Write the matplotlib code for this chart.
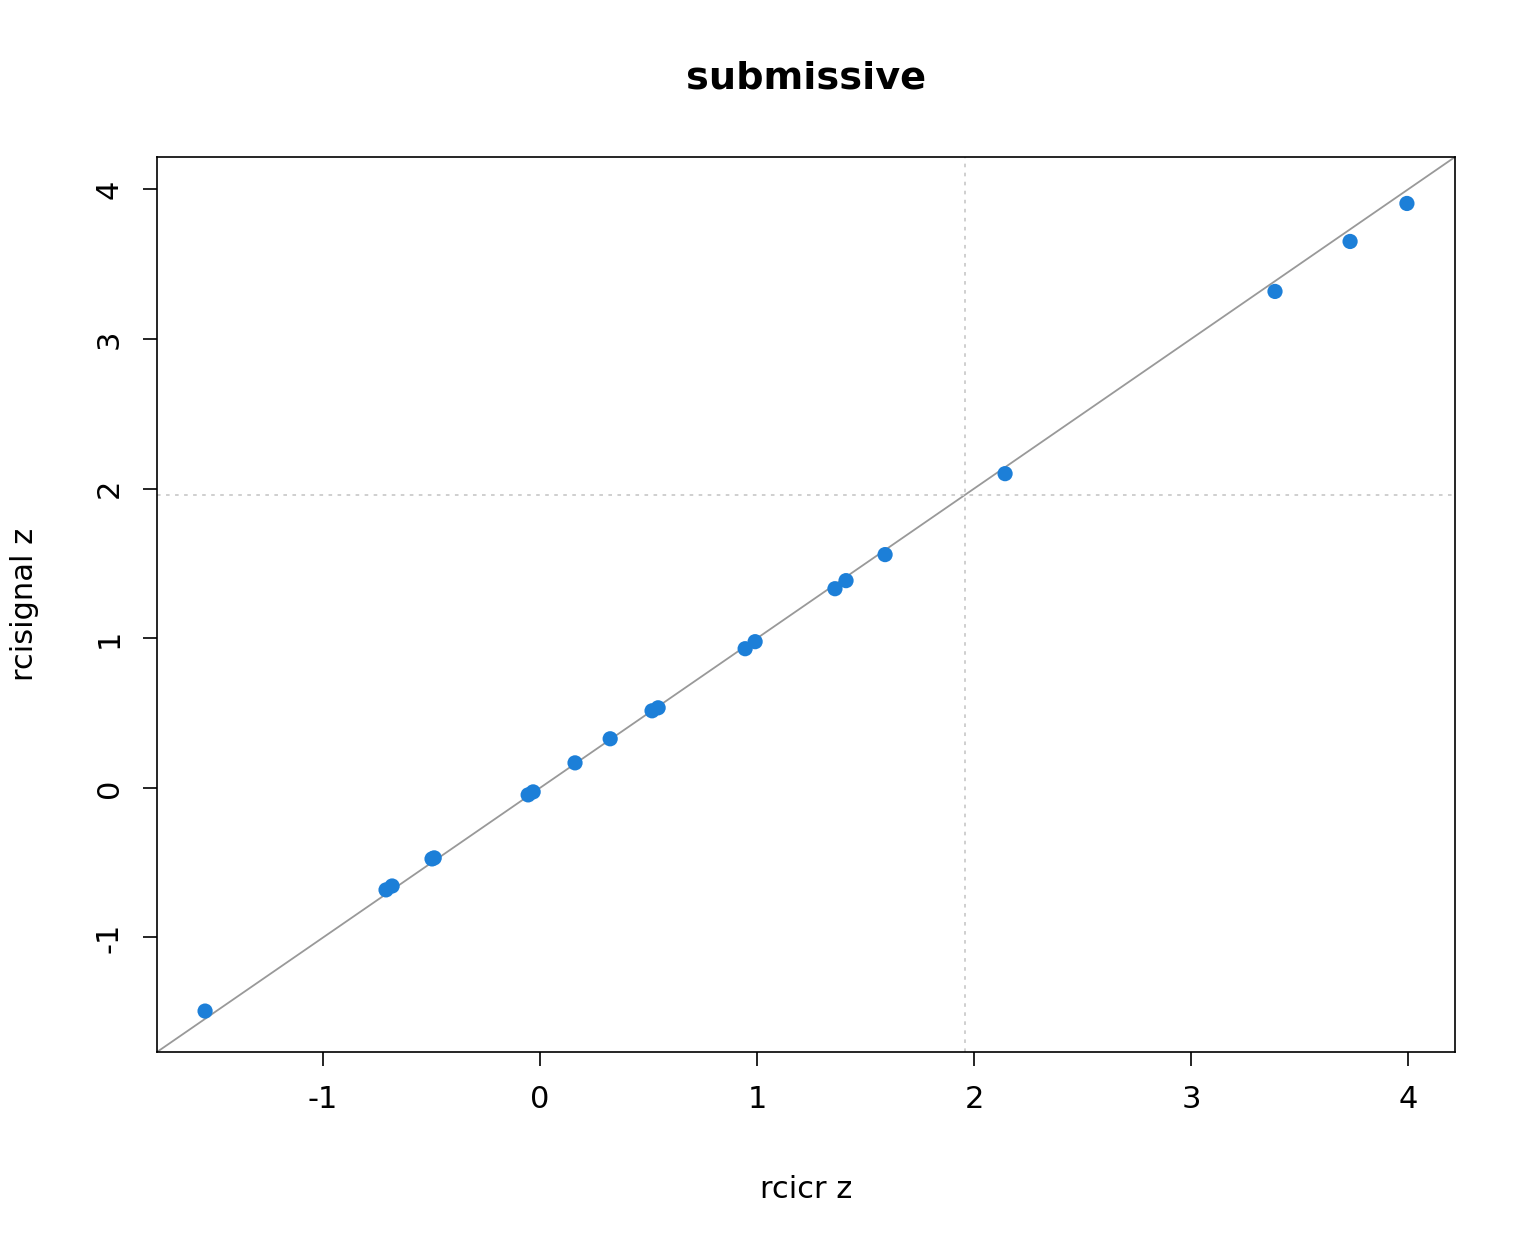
import matplotlib
matplotlib.use("Agg")
import matplotlib.pyplot as plt
import numpy as np

rcicr_z = [-1.544, -0.710, -0.682, -0.498, -0.488, -0.055, -0.032, 0.161, 0.323,
           0.516, 0.544, 0.945, 0.991, 1.359, 1.410, 1.590, 2.143, 3.387, 3.733, 3.995]
rcisignal_z = [-1.492, -0.682, -0.656, -0.475, -0.468, -0.047, -0.027, 0.167, 0.328,
               0.515, 0.535, 0.930, 0.977, 1.331, 1.385, 1.559, 2.100, 3.318, 3.652, 3.906]
ticks = [-1, 0, 1, 2, 3, 4]
threshold = 1.96

fig = plt.figure(figsize=(15.36, 12.48), dpi=100)
ax = fig.add_axes([157/1536, 1-1052/1248, (1455-157)/1536, (1052-157)/1248])

lo = min(min(rcicr_z), min(rcisignal_z))
hi = max(max(rcicr_z), max(rcisignal_z))
pad = 0.04 * (hi - lo)
lims = (lo - pad, hi + pad)
ax.set_xlim(lims)
ax.set_ylim(lims)

ax.axline((0, 0), slope=1, color="#999999", lw=1.3, zorder=1)
ax.axvline(threshold, color="#cccccc", lw=1.3, ls=(0, (2, 3)), zorder=1)
ax.axhline(threshold, color="#cccccc", lw=1.3, ls=(0, (2, 3)), zorder=1)
ax.scatter(rcicr_z, rcisignal_z, s=120, color="#1c7fd8", edgecolors="none", zorder=3)

ax.set_xticks(ticks)
ax.set_yticks(ticks)
ax.set_xticklabels([str(t) for t in ticks], fontsize=22)
ax.set_yticklabels([str(t) for t in ticks], fontsize=22, rotation=90, va="center")
ax.tick_params(length=10, width=1.2, pad=14)
for s in ax.spines.values():
    s.set_linewidth(1.2)

ax.set_xlabel("rcicr z", fontsize=22, labelpad=44)
ax.set_ylabel("rcisignal z", fontsize=22, labelpad=40)
ax.set_title("submissive", fontsize=27.5, fontweight="bold", pad=49)

fig.savefig("out.png", dpi=100)
